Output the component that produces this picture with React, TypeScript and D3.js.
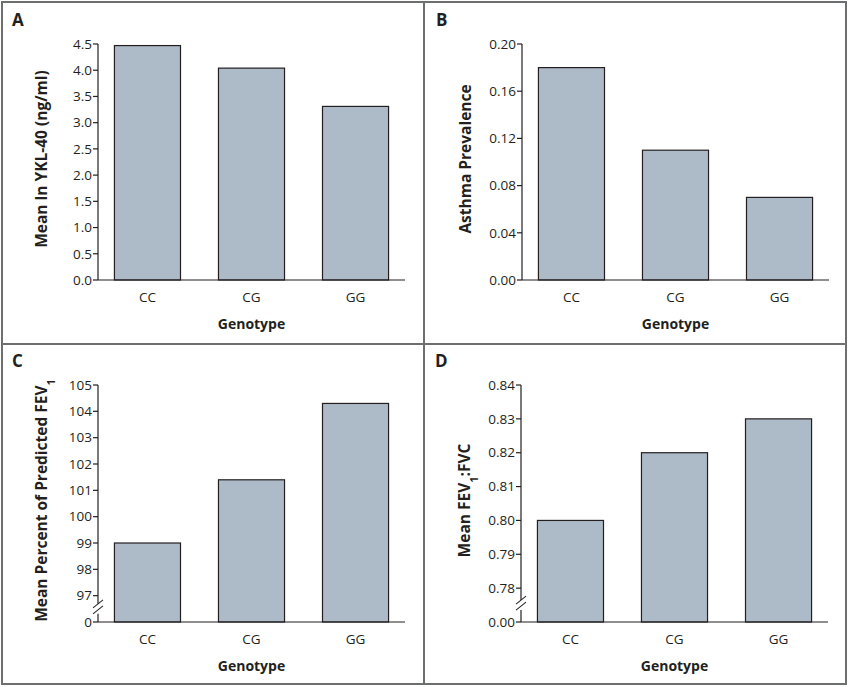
import React from "react";
import * as d3 from "d3";

const categories = ["CC", "CG", "GG"];
const ykl40 = [4.47, 4.04, 3.31];
const asthma = [0.18, 0.11, 0.07];
const fev1 = [99.0, 101.4, 104.3];
const ratio = [0.8, 0.82, 0.83];

const ticksA = [0, 0.5, 1, 1.5, 2, 2.5, 3, 3.5, 4, 4.5];
const ticksB = [0, 0.04, 0.08, 0.12, 0.16, 0.2];
const ticksC = [97, 98, 99, 100, 101, 102, 103, 104, 105];
const ticksD = [0.78, 0.79, 0.8, 0.81, 0.82, 0.83, 0.84];

const FONT = "'Open Sans', 'Noto Sans', sans-serif";
const BAR_FILL = "#adbac7";
const INK = "#231f20";

type PanelProps = {
  ox: number;
  oy: number;
  letter: string;
  values: number[];
  domain: [number, number];
  ticks: number[];
  fmt: (v: number) => string;
  breakLabel?: string;
  ylabel: React.ReactNode;
};

function Panel({ ox, oy, letter, values, domain, ticks, fmt, breakLabel, ylabel }: PanelProps) {
  const axisX = 98;
  const top = 44;
  const base = breakLabel ? 281 : 280;
  const xEnd = 405;
  const x = d3
    .scaleBand<string>()
    .domain(categories)
    .range([axisX, xEnd])
    .paddingInner(0.365)
    .paddingOuter(0.158);
  const y = d3.scaleLinear().domain(domain).range([base, top]);
  const bw = x.bandwidth();
  const midY = (top + base) / 2 - 3;
  const hasBreak = !!breakLabel;
  const breakY = hasBreak ? (y(domain[0]) + y(ticks[0])) / 2 : 0;
  return (
    <g transform={`translate(${ox},${oy})`}>
      <text x={12} y={26} fontSize={17} fontWeight="bold" fill={INK} fontFamily={FONT}>
        {letter}
      </text>
      {values.map((v, i) => (
        <rect
          key={i}
          x={x(categories[i])}
          y={y(v)}
          width={bw}
          height={base - y(v)}
          fill={BAR_FILL}
          stroke={INK}
          strokeWidth={1.2}
        />
      ))}
      {hasBreak ? (
        <>
          <line x1={axisX} x2={axisX} y1={top} y2={breakY - 5} stroke={INK} strokeWidth={1.2} />
          <line x1={axisX} x2={axisX} y1={breakY + 5} y2={base} stroke={INK} strokeWidth={1.2} />
          <line x1={axisX - 5} x2={axisX + 5} y1={breakY - 1} y2={breakY - 9} stroke={INK} strokeWidth={1.1} />
          <line x1={axisX - 5} x2={axisX + 5} y1={breakY + 5} y2={breakY - 3} stroke={INK} strokeWidth={1.1} />
        </>
      ) : (
        <line x1={axisX} x2={axisX} y1={top} y2={base} stroke={INK} strokeWidth={1.2} />
      )}
      <line x1={axisX} x2={xEnd} y1={base} y2={base} stroke={INK} strokeWidth={1.2} />
      {ticks.map((t) => (
        <g key={t}>
          <line x1={axisX - 5} x2={axisX} y1={y(t)} y2={y(t)} stroke={INK} strokeWidth={1.2} />
          <text
            x={axisX - 6}
            y={y(t)}
            dy="0.35em"
            textAnchor="end"
            fontSize={13.5}
            fill={INK}
            fontFamily={FONT}
          >
            {fmt(t)}
          </text>
        </g>
      ))}
      {hasBreak && (
        <g>
          <line x1={axisX - 5} x2={axisX} y1={base} y2={base} stroke={INK} strokeWidth={1.2} />
          <text x={axisX - 6} y={base} dy="0.35em" textAnchor="end" fontSize={13.5} fill={INK} fontFamily={FONT}>
            {breakLabel}
          </text>
        </g>
      )}
      {categories.map((c) => (
        <text
          key={c}
          x={(x(c) as number) + bw / 2}
          y={base + 22}
          textAnchor="middle"
          fontSize={13.5}
          fill={INK}
          fontFamily={FONT}
        >
          {c}
        </text>
      ))}
      <text
        x={(axisX + xEnd) / 2}
        y={base + 49}
        textAnchor="middle"
        fontSize={14}
        fontWeight="bold"
        fill={INK}
        fontFamily={FONT}
      >
        Genotype
      </text>
      <text
        transform={`translate(${axisX - 51},${midY}) rotate(-90)`}
        textAnchor="middle"
        fontSize={15.5}
        fontWeight="bold"
        fill={INK}
        fontFamily={FONT}
      >
        {ylabel}
      </text>
    </g>
  );
}

export default function App() {
  return (
    <svg width={848} height={687} style={{ display: "block", position: "absolute", left: 0, top: 0 }}>
      <rect x={0} y={0} width={848} height={687} fill="#fff" />
      <rect x={2} y={2} width={844} height={682} fill="none" stroke="#6d6e70" strokeWidth={2} />
      <line x1={424} x2={424} y1={2} y2={684} stroke="#6d6e70" strokeWidth={2} />
      <line x1={2} x2={846} y1={344} y2={344} stroke="#6d6e70" strokeWidth={2} />
      <Panel
        ox={0}
        oy={0}
        letter="A"
        values={ykl40}
        domain={[0, 4.5]}
        ticks={ticksA}
        fmt={d3.format(".1f")}
        ylabel="Mean ln YKL-40 (ng/ml)"
      />
      <Panel
        ox={424}
        oy={0}
        letter="B"
        values={asthma}
        domain={[0, 0.2]}
        ticks={ticksB}
        fmt={d3.format(".2f")}
        ylabel="Asthma Prevalence"
      />
      <Panel
        ox={0}
        oy={341}
        letter="C"
        values={fev1}
        domain={[96, 105]}
        ticks={ticksC}
        fmt={d3.format("d")}
        breakLabel="0"
        ylabel={
          <>
            Mean Percent of Predicted FEV
            <tspan baselineShift="sub" fontSize={11}>1</tspan>
          </>
        }
      />
      <Panel
        ox={423}
        oy={341}
        letter="D"
        values={ratio}
        domain={[0.77, 0.84]}
        ticks={ticksD}
        fmt={d3.format(".2f")}
        breakLabel="0.00"
        ylabel={
          <>
            Mean FEV
            <tspan baselineShift="sub" fontSize={11}>1</tspan>
            <tspan>:FVC</tspan>
          </>
        }
      />
    </svg>
  );
}
